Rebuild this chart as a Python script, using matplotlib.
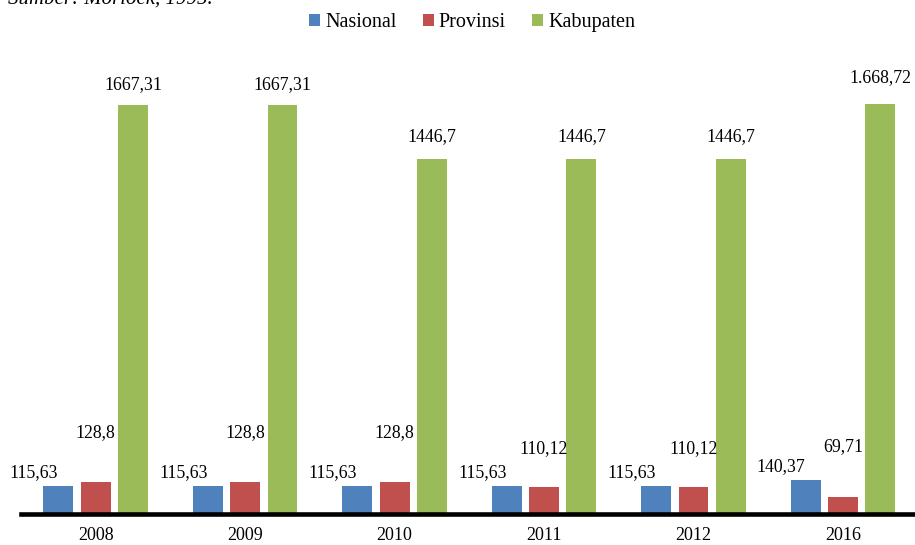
import numpy as np
import matplotlib
matplotlib.use("Agg")
import matplotlib.pyplot as plt

plt.rcParams['font.family'] = ['Liberation Serif', 'DejaVu Serif']

# Data
years = ['2008', '2009', '2010', '2011', '2012', '2016']
nasional = [115.63, 115.63, 115.63, 115.63, 115.63, 140.37]
provinsi = [128.8, 128.8, 128.8, 110.12, 110.12, 69.71]
kabupaten = [1667.31, 1667.31, 1446.7, 1446.7, 1446.7, 1668.72]
lbl_nasional = ['115,63', '115,63', '115,63', '115,63', '115,63', '140,37']
lbl_provinsi = ['128,8', '128,8', '128,8', '110,12', '110,12', '69,71']
lbl_kabupaten = ['1667,31', '1667,31', '1446,7', '1446,7', '1446,7', '1.668,72']

# label offsets above bar tops, in pixels
red_dy = [50, 50, 50, 38, 38, 50]
green_dy = [20, 20, 22, 22, 22, 27]

colors = ['#4F81BD', '#C0504D', '#9BBB59']

dpi = 100
fig = plt.figure(figsize=(9.15, 5.45), dpi=dpi)
ax = fig.add_axes([21 / 915, 31 / 545, 896.7 / 915, 474 / 545])

x = np.arange(len(years))
w = 0.2
off = 0.25
px = 72 / dpi  # pixels -> points

ax.bar(x - off, nasional, w, color=colors[0], label='Nasional', zorder=2)
ax.bar(x, provinsi, w, color=colors[1], label='Provinsi', zorder=2)
ax.bar(x + off, kabupaten, w, color=colors[2], label='Kabupaten', zorder=2)

for i in range(len(years)):
    ax.annotate(lbl_nasional[i], (x[i] - off, nasional[i]), xytext=(0, 13 * px),
                textcoords='offset points', ha='right', va='center', fontsize=12.8)
    ax.annotate(lbl_provinsi[i], (x[i], provinsi[i]), xytext=(0, red_dy[i] * px),
                textcoords='offset points', ha='center', va='center', fontsize=12.8)
    ax.annotate(lbl_kabupaten[i], (x[i] + off, kabupaten[i]), xytext=(0, green_dy[i] * px),
                textcoords='offset points', ha='center', va='center', fontsize=12.8)

ax.set_xlim(-0.5, 5.5)
ax.set_ylim(0, 1930)
ax.set_xticks(x)
ax.set_xticklabels(years, fontsize=13)
ax.tick_params(axis='x', length=0, pad=9.5)
ax.set_yticks([])
for s in ['top', 'right', 'left']:
    ax.spines[s].set_visible(False)
ax.spines['bottom'].set_linewidth(3.3)
ax.spines['bottom'].set_zorder(3)

fig.legend(loc='center', bbox_to_anchor=(0.516, 0.958), ncol=3, frameon=False,
           fontsize=14.5, handlelength=0.55, handleheight=0.55, handletextpad=0.25,
           columnspacing=1.3)

fig.text(8 / 915, 1 - 4 / 545, 'Sumber: Morlock, 1995.', fontsize=15, style='italic',
         ha='left', va='baseline')

fig.savefig('out.png', dpi=dpi)
